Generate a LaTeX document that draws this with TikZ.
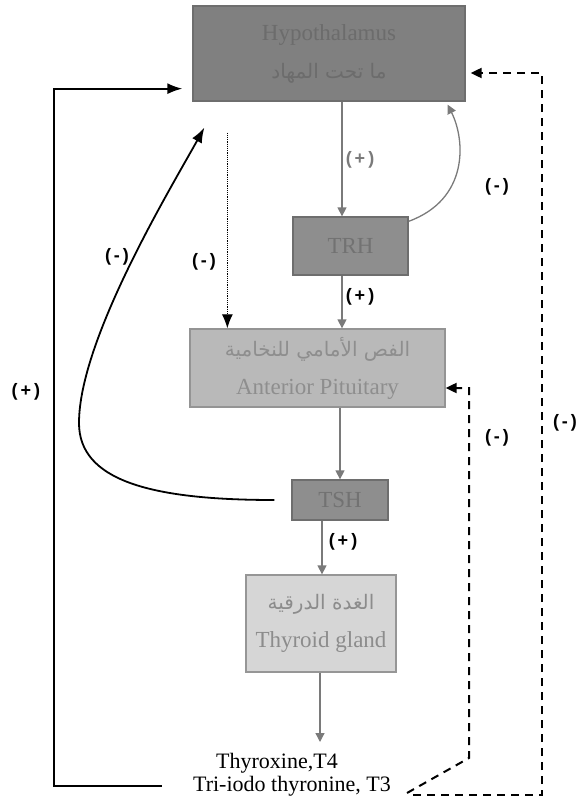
\documentclass[tikz,border=0pt]{standalone}
\usepackage{fontspec}
\setmainfont{Liberation Serif}
\setsansfont{Liberation Sans}
\newfontfamily\arabicfont[Script=Arabic]{DejaVu Sans}
\TeXXeTstate=1
\usetikzlibrary{arrows.meta}
\usetikzlibrary{calc}
\usepackage{xcolor}

\definecolor{hypofill}{HTML}{808080}
\definecolor{hypotext}{HTML}{6C6C6C}
\definecolor{midfill}{HTML}{8E8E8E}
\definecolor{midtext}{HTML}{727272}
\definecolor{antfill}{HTML}{B9B9B9}
\definecolor{anttext}{HTML}{8E8E8E}
\definecolor{thyfill}{HTML}{D6D6D6}
\definecolor{thytext}{HTML}{8C8C8C}
\definecolor{boxedge}{HTML}{6E6E6E}
\definecolor{linegray}{HTML}{7A7A7A}

\newcommand{\boxfont}{\fontsize{23}{38}\selectfont}
\newcommand{\arfont}{\arabicfont\fontsize{20}{22}\selectfont}
\newcommand{\signfont}{\sffamily\bfseries\fontsize{18}{20}\selectfont}

\begin{document}
\begin{tikzpicture}[x=1pt, y=-1pt,
    box/.style={rectangle, draw=boxedge, line width=1.3pt, inner sep=0pt, align=center, font=\boxfont},
    grayline/.style={draw=linegray, line width=1.3pt, -{Triangle[width=9pt,length=9pt]}},
    blackline/.style={line width=1.8pt, -{Latex[width=11pt,length=15pt]}},
    fbline/.style={line width=2pt, dash pattern=on 8pt off 6pt, -{Triangle[width=10pt,length=11pt]}},
    sign/.style={font=\signfont, inner sep=0pt}]
      \useasboundingbox (0,0) rectangle (583,801);

      % boxes
      \node [box, fill=hypofill, text=hypotext, minimum width=272, minimum height=95, name=hypo] at
      (329,53.5) {Hypothalamus\\{\arfont\beginR ما تحت المهاد\endR}};
      \node [box, fill=midfill, text=midtext, minimum width=115, minimum height=58, name=trh] at
      (350.5,246) {TRH};
      \node [box, fill=antfill, text=anttext, draw=antfill!80!black, minimum width=255, minimum height=78, name=ant] at
      (317.5,368) {{\arfont\beginR الفص الأمامي للنخامية\endR}\\Anterior Pituitary};
      \node [box, fill=midfill, text=midtext, minimum width=96, minimum height=40, name=tsh] at
      (340,500) {TSH};
      \node [box, fill=thyfill, text=thytext, draw=thyfill!70!black, minimum width=150, minimum height=97, name=thy] at
      (321,623.5) {{\arfont\beginR الغدة الدرقية\endR}\\Thyroid gland};

      % hormones
      \node [inner sep=1pt, font=\fontsize{22}{24}\selectfont, name=t4] at (277,763) {Thyroxine,T4};
      \node [inner sep=1pt, font=\fontsize{22}{24}\selectfont, name=t3] at (292,786) {Tri-iodo thyronine, T3};

      % free ends
      \coordinate (turn) at (79,423);
      \coordinate (hormtop) at (320,742);
      \coordinate (fbstart) at (413,795);
      \coordinate (dotstart) at ($(hypo.south west)+(35,31)$);
      \coordinate (loopstart) at ($(t3.west)+(-30,0)$);

      % stimulation, top to bottom
      \draw [grayline] ([xshift=13pt]hypo.south) -- ([xshift=-8.5pt]trh.north);
      \draw [grayline] ([xshift=-8.5pt]trh.south) -- ([xshift=24.5pt]ant.north);
      \draw [grayline] ([xshift=22.5pt]ant.south) -- (tsh.north);
      \draw [grayline] ([xshift=-18pt]tsh.south) -- ([xshift=1pt]thy.north);
      \draw [grayline] (thy.south -| hormtop) -- (hormtop);

      % short loops
      \draw [grayline] ([yshift=-5pt]trh.north east) .. controls +(60,-22) and +(18,36) ..
      ([xshift=-18pt,yshift=-3pt]hypo.south east);
      \draw [blackline] ([xshift=-17pt]tsh.west) .. controls +(-125,0) and +(0,57) .. (turn)
      .. controls +(0,-83) and +(-35,63) .. ([xshift=12pt,yshift=-26pt]hypo.south west);
      \draw [line width=1.2pt, densely dotted, -{Latex[width=11pt,length=14pt]}] (dotstart) -- (dotstart |- ant.north);

      % long loops
      \draw [blackline] (loopstart) -- ++(-108,0) |- ([xshift=-10pt,yshift=13pt]hypo.south west);
      \draw [fbline] (fbstart) -- ++(129,0) |- ([xshift=5pt,yshift=-19.5pt]hypo.east);
      \draw [fbline] ($(fbstart)+(-6,-2)$) -- ++(62,-35) |- ([yshift=-20pt]ant.east);

      % signs
      \node [sign, text=linegray, name=s1] at (360,160) {(\,+\,)};
      \node [sign, name=s2] at (497,187) {(\,-\,)};
      \node [sign, name=s3] at (360,297) {(\,+\,)};
      \node [sign, name=s4] at (117,257) {(\,-\,)};
      \node [sign, name=s5] at (204,262) {(\,-\,)};
      \node [sign, name=s6] at (26,392) {(\,+\,)};
      \node [sign, name=s7] at (497,438) {(\,-\,)};
      \node [sign, name=s8] at (565,423) {(\,-\,)};
      \node [sign, name=s9] at (343,542) {(\,+\,)};
\end{tikzpicture}
\end{document}
